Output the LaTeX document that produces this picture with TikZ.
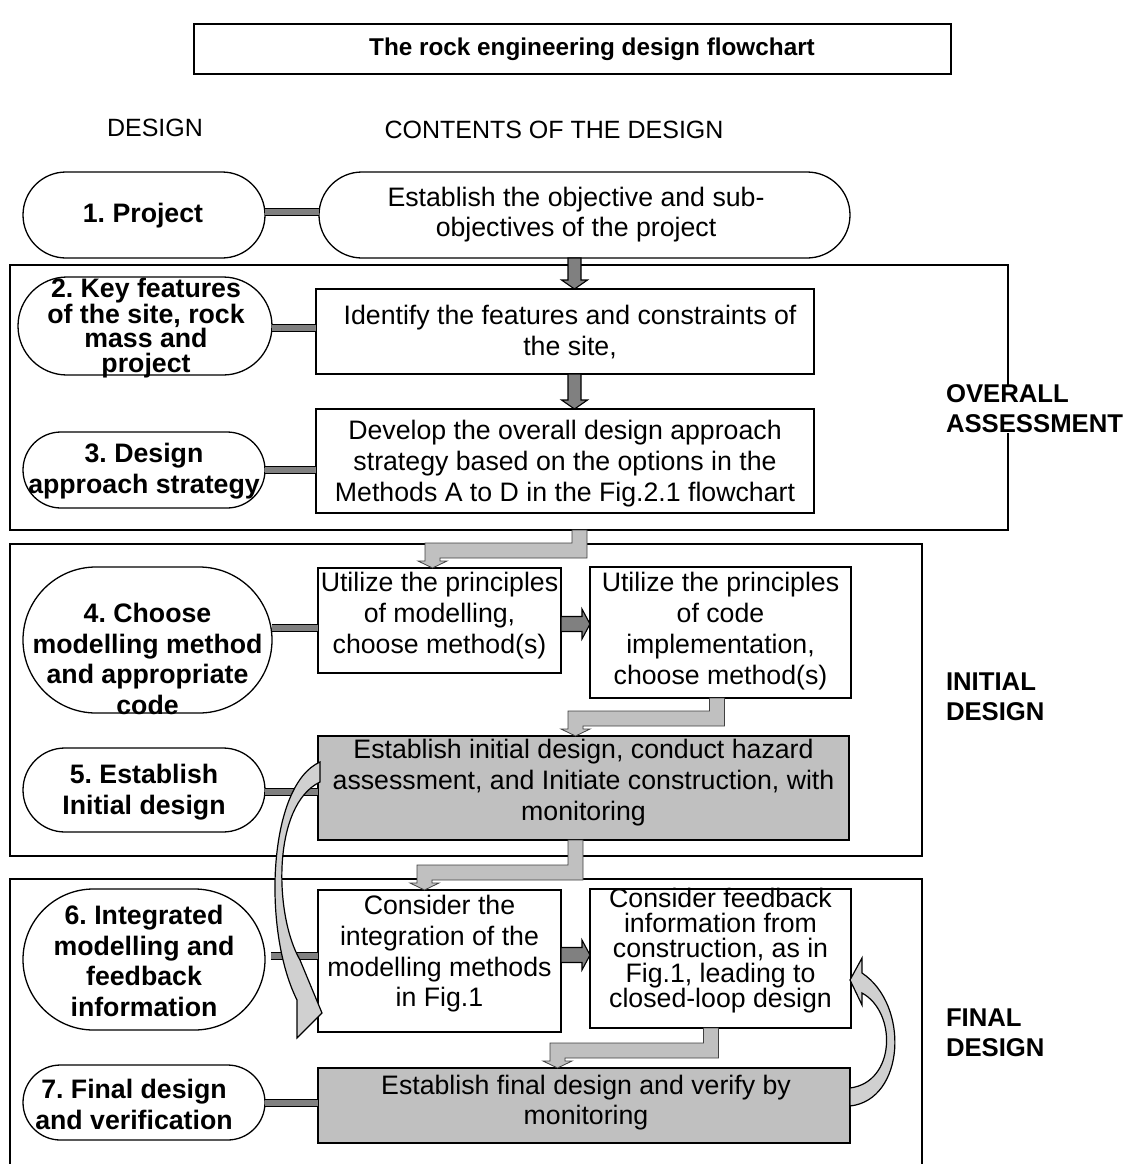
\documentclass[tikz,border=0pt]{standalone}
\usepackage{fontspec}
\setmainfont{Liberation Sans}
\usetikzlibrary{shapes.misc,calc}

\definecolor{bargray}{HTML}{808080}
\definecolor{boxgray}{HTML}{C0C0C0}
\definecolor{ribbon}{HTML}{D0D0D0}

% straight block arrow pointing down, x taken from the start point
\newcommand\downblock[2]{\path[blk] let \p1=(#1), \p2=(#2) in
  (\x1-6.5pt,\y1) -- (\x1-6.5pt,\y2+9pt) -- (\x1-13pt,\y2+9pt) -- (\x1,\y2)
  -- (\x1+13pt,\y2+9pt) -- (\x1+6.5pt,\y2+9pt) -- (\x1+6.5pt,\y1) -- cycle;}
% straight block arrow pointing right, y taken from the start point
\newcommand\rightblock[2]{\path[blk] let \p1=(#1), \p2=(#2) in
  (\x1,\y1-7.5pt) -- (\x2-8pt,\y1-7.5pt) -- (\x2-8pt,\y1-15pt) -- (\x2,\y1)
  -- (\x2-8pt,\y1+15pt) -- (\x2-8pt,\y1+7.5pt) -- (\x1,\y1+7.5pt) -- cycle;}
% elbow arrow: down, left, down
\newcommand\elbowarrow[2]{\path[elbow] let \p1=(#1), \p2=(#2) in
  (\x1-7.5pt,\y1) -- (\x1-7.5pt,\y2+25pt) -- (\x2-7.5pt,\y2+25pt)
  -- (\x2-7.5pt,\y2+7pt) -- (\x2-14.5pt,\y2+7pt) -- (\x2,\y2)
  -- (\x2+14.5pt,\y2+7pt) -- (\x2+7.5pt,\y2+7pt) -- (\x2+7.5pt,\y2+10pt)
  -- (\x1+7.5pt,\y2+10pt) -- (\x1+7.5pt,\y1) -- cycle;}
% horizontal link bar from a point to the x of a target anchor
\newcommand\linkbar[2]{\draw[bar] let \p1=(#1), \p2=(#2) in (\p1) -- (\x2,\y1);}

\begin{document}
\frenchspacing
\begin{tikzpicture}[x=1pt,y=-1pt,
  every node/.style={inner sep=0pt, outer sep=0pt},
  txt/.style={font=\fontsize{26.7}{30.5}\selectfont, align=center},
  btxt/.style={font=\bfseries\fontsize{26.7}{30.5}\selectfont, align=center},
  side/.style={font=\bfseries\fontsize{25.7}{30}\selectfont, align=left, anchor=west, fill=white},
  head/.style={font=\fontsize{25}{30}\selectfont},
  stad/.style={draw, line width=1.3pt, rounded rectangle},
  box/.style={draw, line width=1.3pt, rectangle},
  grp/.style={draw, line width=1.7pt, rectangle},
  bar/.style={line width=1.1pt, draw=black, double=bargray, double distance=6.5pt},
  blk/.style={draw=black, line width=1.1pt, fill=bargray, line join=miter},
  elbow/.style={draw=black!75, line width=0.8pt, fill=boxgray},
  curv/.style={draw=black, line width=1.2pt, fill=ribbon, line join=miter},
]
\useasboundingbox (0,0) rectangle (1132,1164);

% title
\node[box, minimum width=757pt, minimum height=50pt] (title) at (572.5,49) {};
\node[font=\bfseries\fontsize{24.3}{28}\selectfont] (titletext) at (592,49) {The rock engineering design flowchart};

% column headings
\node[head] (hdesign) at (155,128) {DESIGN};
\node[head] (hcontent) at (554,130) {CONTENTS OF THE DESIGN};

% group frames
\node[grp, minimum width=998pt, minimum height=265pt] (g1) at (509,397.5) {};
\node[grp, minimum width=912pt, minimum height=312pt] (g2) at (466,700) {};
\node[grp, minimum width=912pt, minimum height=300pt, anchor=north west] (g3) at (10,879) {};

% step 1
\node[stad, minimum width=242pt, minimum height=86pt] (n1) at (144,215) {};
\node[btxt] (n1t) at (143,216) {1. Project};
\node[stad, minimum width=531pt, minimum height=86pt] (b1) at (584.5,215) {};
\node[txt, font=\fontsize{26.7}{30}\selectfont] (b1t) at (576,215) {Establish the objective and sub-\\objectives of the project};

% step 2
\node[stad, minimum width=254pt, minimum height=98pt] (n2) at (145,326) {};
\node[btxt, font=\bfseries\fontsize{26.7}{24.3}\selectfont] (n2t) at (146,328) {2. Key features\\of the site, rock\\mass and\\project};
\node[box, minimum width=498pt, minimum height=85pt] (b2) at (565,331.5) {};
\node[txt, font=\fontsize{26.7}{31}\selectfont] (b2t) at (570,332) {Identify the features and constraints of\\the site,};

% step 3
\node[stad, minimum width=242pt, minimum height=76pt] (n3) at (144,470) {};
\node[btxt, font=\bfseries\fontsize{26.7}{31}\selectfont] (n3t) at (144,471) {3. Design\\approach strategy};
\node[box, minimum width=498pt, minimum height=104pt] (b3) at (565,461) {};
\node[txt, font=\fontsize{26.7}{31}\selectfont] (b3t) at (565,464) {Develop the overall design approach\\strategy based on the options in the\\Methods A to D in the Fig.2.1 flowchart};

% step 4
\node[stad, minimum width=249pt, minimum height=146pt] (n4) at (147.5,640) {};
\node[btxt] (n4t) at (147.5,659) {4. Choose\\modelling method\\and appropriate\\code};
\node[box, minimum width=243pt, minimum height=105pt] (b4a) at (439.5,620.5) {};
\node[txt, font=\fontsize{26.7}{31}\selectfont] (b4at) at (439.5,616) {Utilize the principles\\of modelling,\\choose method(s)};
\node[box, minimum width=261pt, minimum height=131pt] (b4b) at (720.5,632.5) {};
\node[txt, font=\fontsize{26.7}{31}\selectfont] (b4bt) at (720.5,631.5) {Utilize the principles\\of code\\implementation,\\choose method(s)};

% step 5
\node[stad, minimum width=242pt, minimum height=84pt] (n5) at (144,790) {};
\node[btxt, font=\bfseries\fontsize{26.7}{31}\selectfont] (n5t) at (144,792.5) {5. Establish\\Initial design};
\node[box, fill=boxgray, minimum width=531pt, minimum height=104pt] (b5) at (583.5,788) {};
\node[txt, font=\fontsize{26.7}{31}\selectfont] (b5t) at (583.5,783) {Establish initial design, conduct hazard\\assessment, and Initiate construction, with\\monitoring};

% step 6
\node[stad, minimum width=242pt, minimum height=141pt] (n6) at (144,959.5) {};
\node[btxt, font=\bfseries\fontsize{26.7}{30.7}\selectfont] (n6t) at (144,961) {6. Integrated\\modelling and\\feedback\\information};
\node[box, minimum width=243pt, minimum height=142pt] (b6a) at (439.5,961) {};
\node[txt, font=\fontsize{26.7}{30.7}\selectfont] (b6at) at (439.5,954) {Consider the\\integration of the\\modelling methods\\in Fig.1};
\node[box, minimum width=261pt, minimum height=139pt] (b6b) at (720.5,958.5) {};
\node[txt, font=\fontsize{26.7}{25}\selectfont] (b6bt) at (720.5,951) {Consider feedback\\information from\\construction, as in\\Fig.1, leading to\\closed-loop design};

% step 7
\node[stad, minimum width=242pt, minimum height=75pt] (n7) at (144,1102.5) {};
\node[btxt, font=\bfseries\fontsize{26.7}{31}\selectfont] (n7t) at (134,1104.5) {7. Final design\\and verification};
\node[box, fill=boxgray, minimum width=532pt, minimum height=75pt] (b7) at (584,1105.5) {};
\node[txt, font=\fontsize{26.7}{30}\selectfont] (b7t) at (586,1103) {Establish final design and verify by\\monitoring};

% phase labels
\node[side] (lab1) at (946,409) {OVERALL\\ASSESSMENT};
\node[side] (lab2) at (946,697) {INITIAL\\DESIGN};
\node[side] (lab3) at (946,1033) {FINAL\\DESIGN};

% link bars between step names and contents
\linkbar{$(n1.east)+(0,-3)$}{b1.west}
\linkbar{$(n2.east)+(0,2)$}{b2.west}
\linkbar{n3.east}{b3.west}
\linkbar{$(n4.east)+(0,-12)$}{b4a.west}
\linkbar{$(n5.east)+(0,2)$}{b5.west}
\linkbar{$(n6.east)+(6,-3.5)$}{b6a.west}
\linkbar{$(n7.east)+(0,0.5)$}{b7.west}

% straight block arrows
\downblock{$(b1.south)+(-10,0)$}{b2.north}
\downblock{$(b2.south)+(9.5,0)$}{b3.north}
\rightblock{$(b4a.east)+(0,3.5)$}{b4b.west}
\rightblock{$(b6a.east)+(0,-6)$}{b6b.west}

% elbow arrows between the phases
\path let \p1=($(b3.south)+(14.5,0)$), \p2=(g1.south) in coordinate (e1s) at (\x1,\y2);
\elbowarrow{e1s}{$(b4a.north)+(-7,0)$}
\elbowarrow{$(b4b.south)+(-3.5,0)$}{$(b5.north)+(-8,0)$}
\elbowarrow{$(b5.south)+(-8,0)$}{$(b6a.north)+(-15,0)$}
\elbowarrow{$(b6b.south)+(-9.5,0)$}{$(b7.north)+(-26.5,0)$}

% curved feedback arrows
\path[curv] ($(b5.north west)+(2,26)$)
  .. controls ($(b5.north west)+(-50,49)$) and ($(b6a.north west)+(-56,40)$) .. ($(b6a.north west)+(-21,110)$)
  -- ($(b6a.north west)+(-21,148)$) -- ($(b6a.north west)+(4,123)$) -- ($(b6a.north west)+(-18,70)$)
  .. controls ($(b6a.north west)+(-44,25)$) and ($(b5.north west)+(-46,69)$) .. ($(b5.north west)+(2,46)$)
  -- cycle;
\path[curv] ($(b7.north east)+(0,38)$)
  .. controls ($(b7.north east)+(55,32)$) and ($(b6b.north east)+(59,116)$) .. ($(b6b.north east)+(11,84)$)
  -- ($(b6b.north east)+(11,69)$) -- ($(b6b.north east)+(-1,91)$) -- ($(b6b.north east)+(11,116)$)
  -- ($(b6b.north east)+(11,104)$)
  .. controls ($(b6b.north east)+(46,123)$) and ($(b7.north east)+(46,14)$) .. ($(b7.north east)+(0,20)$)
  -- cycle;
\end{tikzpicture}
\end{document}
